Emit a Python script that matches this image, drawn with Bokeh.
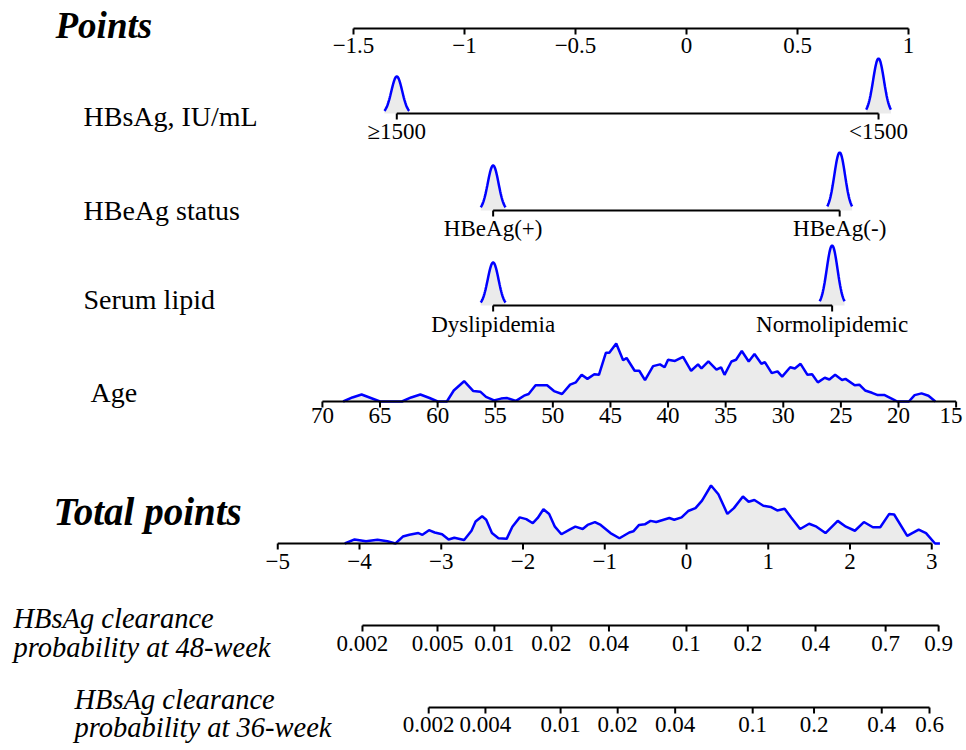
import math
from bokeh.plotting import figure
from bokeh.models import Range1d
from bokeh.embed import file_html
from bokeh.resources import INLINE
from bokeh.core.properties import value

# ---------------- data ----------------
points_ticks = [-1.5, -1, -0.5, 0, 0.5, 1]
points_labels = ["\u22121.5", "\u22121", "\u22120.5", "0", "0.5", "1"]

hbsag_levels = ["\u22651500", "<1500"]
hbsag_points = [-1.305, 0.865]
hbsag_density = [0.37, 0.55]

hbeag_levels = ["HBeAg(+)", "HBeAg(-)"]
hbeag_points = [-0.871, 0.690]
hbeag_density = [0.45, 0.58]

lipid_levels = ["Dyslipidemia", "Normolipidemic"]
lipid_points = [-0.871, 0.656]
lipid_density = [0.43, 0.60]

age_ticks = [70, 65, 60, 55, 50, 45, 40, 35, 30, 25, 20, 15]
age_beta = -0.0519      # points per year
age_center = 38.4       # age with zero points
age_grid = [68.2, 67.4, 66.6, 65.8, 65.0, 63.1, 62.3, 61.5, 60.7, 60.0,
            59.2, 58.6, 57.7, 56.9, 56.3, 55.8, 55.1, 54.5, 54.0, 53.2,
            52.5, 52.1, 51.5, 51.0, 50.5, 49.9, 49.2, 48.5, 48.0, 47.5,
            47.0, 46.4, 46.0, 45.4, 45.1, 44.5, 43.9, 43.6, 42.9, 42.5,
            42.0, 41.3, 40.7, 40.3, 40.0, 39.4, 38.7, 38.0, 37.4, 37.1,
            36.5, 35.8, 35.4, 35.1, 34.5, 34.1, 33.6, 33.0, 32.5, 31.9,
            31.6, 31.0, 30.5, 30.1, 29.4, 29.0, 28.5, 27.9, 27.5, 27.0,
            26.4, 26.0, 25.5, 24.9, 24.6, 23.8, 23.4, 22.9, 22.3, 21.8,
            21.2, 20.6, 20.1, 19.1, 18.6, 18.0, 17.4, 16.8]
age_density = [0.00, 0.07, 0.12, 0.06, 0.00, 0.00, 0.07, 0.12, 0.06, 0.00,
               0.00, 0.19, 0.35, 0.18, 0.17, 0.08, 0.02, 0.05, 0.06, 0.01,
               0.10, 0.13, 0.28, 0.28, 0.28, 0.18, 0.13, 0.29, 0.33, 0.46,
               0.39, 0.47, 0.46, 0.84, 0.84, 1.00, 0.71, 0.75, 0.53, 0.53,
               0.37, 0.61, 0.64, 0.59, 0.72, 0.70, 0.77, 0.53, 0.64, 0.57,
               0.69, 0.55, 0.59, 0.46, 0.69, 0.72, 0.87, 0.69, 0.82, 0.65,
               0.68, 0.49, 0.52, 0.43, 0.59, 0.57, 0.65, 0.46, 0.47, 0.33,
               0.41, 0.38, 0.46, 0.37, 0.39, 0.28, 0.29, 0.19, 0.15, 0.11,
               0.11, 0.05, 0.00, 0.00, 0.11, 0.14, 0.10, 0.00]

total_ticks = [-5, -4, -3, -2, -1, 0, 1, 2, 3]
total_labels = ["\u22125", "\u22124", "\u22123", "\u22122", "\u22121", "0", "1", "2", "3"]
total_grid = [-4.18, -4.06, -3.92, -3.78, -3.66, -3.56, -3.47, -3.39, -3.28, -3.23,
              -3.15, -3.08, -2.99, -2.91, -2.84, -2.72, -2.63, -2.58, -2.50, -2.45,
              -2.38, -2.30, -2.20, -2.13, -2.04, -1.96, -1.88, -1.82, -1.75, -1.68,
              -1.61, -1.53, -1.43, -1.36, -1.27, -1.21, -1.12, -1.05, -0.93, -0.82,
              -0.70, -0.65, -0.58, -0.51, -0.44, -0.37, -0.28, -0.21, -0.15, -0.06,
              0.02, 0.11, 0.19, 0.30, 0.39, 0.50, 0.58, 0.69, 0.76, 0.83,
              0.94, 1.03, 1.11, 1.20, 1.28, 1.39, 1.50, 1.59, 1.70, 1.85,
              1.95, 2.06, 2.17, 2.28, 2.37, 2.48, 2.54, 2.70, 2.84, 2.93,
              3.04, 3.10]
total_density = [0.00, 0.07, 0.04, 0.065, 0.04, 0.00, 0.12, 0.15, 0.18, 0.15,
                 0.23, 0.19, 0.16, 0.07, 0.10, 0.06, 0.22, 0.38, 0.47, 0.41,
                 0.18, 0.09, 0.08, 0.29, 0.45, 0.42, 0.35, 0.44, 0.59, 0.51,
                 0.29, 0.16, 0.24, 0.29, 0.25, 0.32, 0.37, 0.32, 0.18, 0.09,
                 0.19, 0.21, 0.32, 0.33, 0.39, 0.37, 0.41, 0.44, 0.41, 0.45,
                 0.56, 0.61, 0.74, 1.00, 0.85, 0.51, 0.61, 0.81, 0.72, 0.75,
                 0.65, 0.63, 0.57, 0.60, 0.45, 0.25, 0.34, 0.29, 0.18, 0.39,
                 0.29, 0.22, 0.37, 0.28, 0.28, 0.51, 0.50, 0.13, 0.24, 0.18,
                 0.00, 0.00]
total_to_points = 81.75 / 222.0   # points-axis units per total point

prob48_ticks = [0.002, 0.005, 0.01, 0.02, 0.04, 0.1, 0.2, 0.4, 0.7, 0.9]
prob48_labels = ["0.002", "0.005", "0.01", "0.02", "0.04", "0.1", "0.2", "0.4", "0.7", "0.9"]
prob48_shift = 2.25     # total points at which log(-log(1-p)) = 0
prob36_ticks = [0.002, 0.004, 0.01, 0.02, 0.04, 0.1, 0.2, 0.4, 0.6]
prob36_labels = ["0.002", "0.004", "0.01", "0.02", "0.04", "0.1", "0.2", "0.4", "0.6"]
prob36_shift = 3.06

# ---------------- layout helpers ----------------
W, H = 966, 750
PX0, PPU = 686.0, 222.0


def px2pt(px):
    return (px - PX0) / PPU


def prob_to_total(q, shift):
    return math.log(-math.log(1.0 - q)) + shift


FONT = value("Liberation Serif")
BLUE = "#0000FF"
FILL = "#EBEBEB"

p = figure(width=W, height=H, x_range=Range1d(px2pt(0), px2pt(W)),
           y_range=Range1d(H, 0), output_backend="svg", toolbar_location=None,
           x_axis_location=None, y_axis_location=None, min_border=0)
p.outline_line_color = None
p.grid.visible = False
p.background_fill_color = "white"
p.border_fill_color = "white"


def density(xs, hs, base, scale):
    ys = [base - h * scale for h in hs]
    p.varea(x=xs, y1=[base] * len(xs), y2=ys, fill_color=FILL)
    p.line(xs, ys, line_color=BLUE, line_width=2.5)


def hump(center, h, base, scale=100.0):
    sig = 5.4 / PPU
    offs = [sig * (k / 10.0) for k in range(-23, 24)]
    xs = [center + o for o in offs]
    hs = [h * math.exp(-0.5 * (o / sig) ** 2) for o in offs]
    density(xs, hs, base, scale)


def axis(ticks, labels, y, label_y, size="23px", last_shift=0):
    lo, hi = min(ticks), max(ticks)
    p.segment(x0=[lo], y0=[y], x1=[hi], y1=[y], line_color="black", line_width=2)
    p.segment(x0=ticks, y0=[y] * len(ticks), x1=ticks, y1=[y + 6] * len(ticks),
              line_color="black", line_width=2)
    offsets = [0] * (len(ticks) - 1) + [last_shift]
    p.text(x=ticks, y=[label_y] * len(ticks), text=labels, x_offset=offsets,
           text_font=FONT, text_font_size=size, text_align="center",
           text_baseline="middle", text_color="black")


def label(xpx, y, txt, size="28px", style="normal"):
    p.text(x=[px2pt(xpx)], y=[y], text=[txt], text_font=FONT, text_font_size=size,
           text_font_style=style, text_align="left", text_baseline="middle",
           text_color="black")


# ---------------- Points ----------------
label(55, 25, "Points", "37px", "bold italic")
axis(points_ticks, points_labels, 28, 45)

# ---------------- HBsAg ----------------
for c, d in zip(hbsag_points, hbsag_density):
    hump(c, d, 113)
axis(hbsag_points, hbsag_levels, 113, 131)
label(83, 116, "HBsAg, IU/mL")

# ---------------- HBeAg ----------------
for c, d in zip(hbeag_points, hbeag_density):
    hump(c, d, 210)
axis(hbeag_points, hbeag_levels, 210, 228)
label(83, 210, "HBeAg status")

# ---------------- Serum lipid ----------------
for c, d in zip(lipid_points, lipid_density):
    hump(c, d, 305)
axis(lipid_points, lipid_levels, 305, 324)
label(83, 299, "Serum lipid")

# ---------------- Age ----------------
age_x = [age_beta * (a - age_center) for a in age_grid]
density(age_x, age_density, 401, 58)
age_tick_x = [age_beta * (a - age_center) for a in age_ticks]
axis(age_tick_x, [str(a) for a in age_ticks], 401, 415, last_shift=-5)
label(90, 392, "Age")

# ---------------- Total points ----------------
tot_x = [t * total_to_points for t in total_grid]
density(tot_x, total_density, 543, 58)
axis([t * total_to_points for t in total_ticks], total_labels, 543, 561)
label(53, 511, "Total points", "39px", "bold italic")

# ---------------- Probabilities ----------------
p48_x = [prob_to_total(q, prob48_shift) * total_to_points for q in prob48_ticks]
axis(p48_x, prob48_labels, 625, 643)
label(13, 618, "HBsAg clearance", "28.5px", "italic")
label(13, 647, "probability at 48-week", "28.5px", "italic")

p36_x = [prob_to_total(q, prob36_shift) * total_to_points for q in prob36_ticks]
axis(p36_x, prob36_labels, 707, 724)
label(74, 699, "HBsAg clearance", "28.5px", "italic")
label(74, 727, "probability at 36-week", "28.5px", "italic")

open("out.html", "w").write(file_html(p, INLINE))
